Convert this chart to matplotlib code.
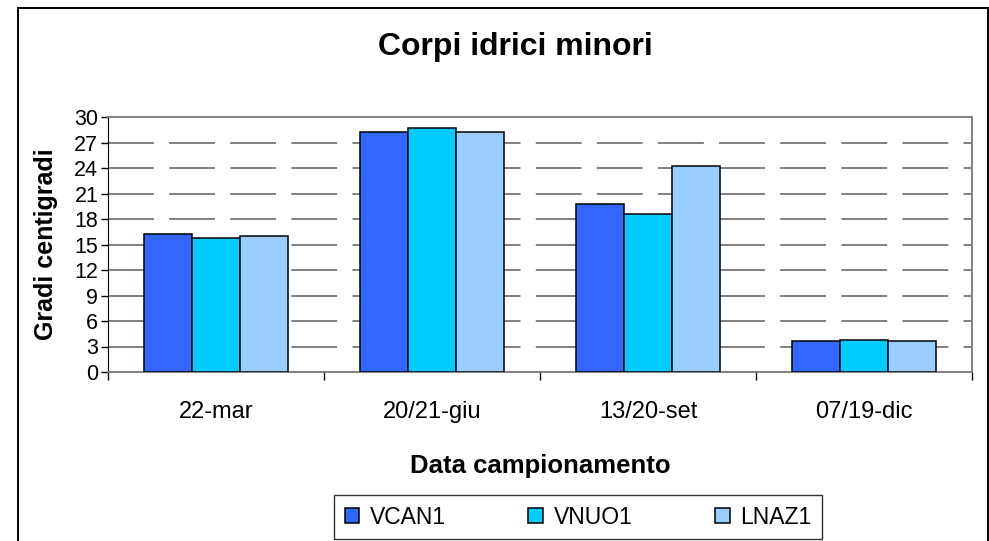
import numpy as np
import matplotlib.pyplot as plt
from matplotlib.lines import Line2D

plt.rcParams['font.family'] = ['Liberation Sans', 'DejaVu Sans']
plt.rcParams['lines.scale_dashes'] = False

# --- dati ---
categorie = ['22-mar', '20/21-giu', '13/20-set', '07/19-dic']
serie = ['VCAN1', 'VNUO1', 'LNAZ1']
vcan1 = [16.2, 28.2, 19.8, 3.6]
vnuo1 = [15.8, 28.7, 18.6, 3.8]
lnaz1 = [16.0, 28.2, 24.2, 3.6]
colori = ['#3366FF', '#00CCFF', '#99CCFF']

fig = plt.figure(figsize=(9.89, 5.41), dpi=100)
ax = fig.add_axes([108/989, 1 - 372/541, 864/989, 255/541])

x = np.arange(len(categorie))
w = 1 / 4.5
for i, (nome, vals) in enumerate(zip(serie, [vcan1, vnuo1, lnaz1])):
    ax.bar(x + (i - 1) * w, vals, w, color=colori[i], edgecolor='black',
           linewidth=1.1, label=nome, zorder=3)

ax.set_xlim(-0.5, len(categorie) - 0.5)
ax.set_ylim(0, 30)
ax.set_yticks(np.arange(0, 31, 3))
ax.set_xticks(x)
ax.set_xticklabels(categorie, fontsize=17)
ax.set_xticks(np.arange(-0.5, len(categorie)), minor=True)
ax.tick_params(axis='x', which='major', length=0, pad=21)
ax.tick_params(axis='x', which='minor', length=6, width=1, color='black', direction='out')
ax.tick_params(axis='y', length=5, width=1, labelsize=15.5, pad=2)

# griglia tratteggiata
for v in np.arange(3, 30, 3):
    ax.axhline(v, color='#808080', linewidth=1.4, linestyle=(0, (33, 11)), zorder=1)

for s in ['top', 'right']:
    ax.spines[s].set_color('#808080')
    ax.spines[s].set_linewidth(1.4)
ax.spines['left'].set_color('black')
ax.spines['bottom'].set_color('#808080')
ax.spines['bottom'].set_linewidth(1.4)

ax.set_ylabel('Gradi centigradi', fontsize=18, fontweight='bold', labelpad=12)
ax.set_xlabel('Data campionamento', fontsize=18.5, fontweight='bold', labelpad=22)
fig.text(515/989, 1 - 47/541, 'Corpi idrici minori', fontsize=23, fontweight='bold',
         ha='center', va='center')

leg = fig.legend(loc='center', bbox_to_anchor=(578/989, 1 - 517/541), ncol=3,
                 fontsize=16.5, frameon=True, fancybox=False, edgecolor='black',
                 handlelength=0.65, handleheight=0.65, columnspacing=3.6,
                 handletextpad=0.45, borderpad=0.45)
leg.get_frame().set_linewidth(1.0)

# bordo esterno
bx0, bx1, by1 = 18/989, 988/989, 1 - 8/541
for xs, ys in [([bx0, bx0], [0, by1]), ([bx0, bx1], [by1, by1]), ([bx1, bx1], [by1, 0])]:
    fig.add_artist(Line2D(xs, ys, color='black', linewidth=1.4, transform=fig.transFigure))

fig.savefig('out.png', dpi=100, facecolor='white')
